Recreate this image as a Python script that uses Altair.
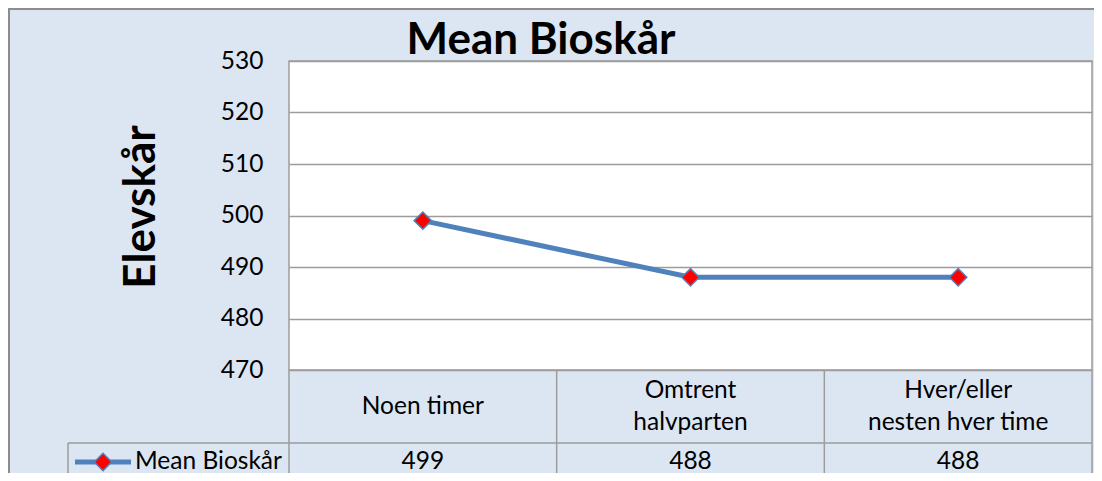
import altair as alt
import pandas as pd

# ---- data ----
categories = ["Noen timer", "Omtrent\nhalvparten", "Hver/eller\nnesten hver time"]
values = [499, 488, 488]
series_name = "Mean Bioskår"
chart_title = "Mean Bioskår"
y_title = "Elevskår"
y_ticks = [470, 480, 490, 500, 510, 520, 530]

# ---- style / layout ----
W, H = 803, 309
FONT = "Lato"
FS = 24.5
BLUE = "#4F81BD"
GRID = "#9C9C9C"
BG = "#DCE6F2"
PAD_L, PAD_T, PAD_R, PAD_B = 281, 53, 2, 103
TABLE_BOTTOM = H + PAD_B
ROW2_Y = 382          # horizontal line between category row and value row
VAL_Y = 401           # centre of the value row
LEG_X = -221          # left edge of the legend cell

df = pd.DataFrame({"cat": categories, "val": values, "series": [series_name] * len(values)})
one = pd.DataFrame({"series": [series_name]})

xenc = alt.X("cat:N", sort=categories, scale=alt.Scale(type="point", padding=0.5), axis=None)

base = alt.Chart(df)

line = base.mark_line(color=BLUE, strokeWidth=5).encode(
    x=xenc,
    y=alt.Y(
        "val:Q",
        scale=alt.Scale(domain=[470, 530], nice=False, zero=False),
        axis=alt.Axis(
            values=y_ticks, grid=True, gridColor=GRID, gridWidth=1.5,
            domain=False, ticks=False,
            labelFont=FONT, labelFontSize=FS, labelColor="black", labelPadding=26,
            title=y_title, titleFont=FONT, titleFontSize=44, titleFontWeight="bold",
            titleColor="black", titleX=-148, titleY=H / 2 - 9, titleAngle=270,
            titleAlign="center", titleBaseline="middle",
        ),
    ),
)

pts = base.mark_point(
    shape="diamond", filled=True, fill="red", stroke=BLUE, strokeWidth=1.5, size=300, opacity=1
).encode(x=xenc, y="val:Q")

# category row of the data table (one-line and two-line labels centred in the row)
cat_one = base.transform_filter("indexof(datum.cat, '\\n') < 0").mark_text(
    font=FONT, fontSize=FS, baseline="middle", align="center", color="black"
).encode(x=xenc, y=alt.value(H + 37), text="cat:N")
cat_two = base.transform_filter("indexof(datum.cat, '\\n') >= 0").mark_text(
    font=FONT, fontSize=FS, lineBreak="\n", lineHeight=32, baseline="middle", align="center", color="black"
).encode(x=xenc, y=alt.value(H + 21), text="cat:N")

val_text = base.mark_text(
    font=FONT, fontSize=FS, baseline="middle", align="center", color="black"
).encode(x=xenc, y=alt.value(VAL_Y), text="val:Q")

title_text = alt.Chart(one).mark_text(
    font=FONT, fontSize=44, fontWeight="bold", baseline="middle", align="center", color="black"
).encode(x=alt.value(252), y=alt.value(-20), text=alt.value(chart_title))

# legend cell in the data table
leg_line = alt.Chart(one).mark_rule(color=BLUE, strokeWidth=5).encode(
    x=alt.value(-214), x2=alt.value(-158), y=alt.value(VAL_Y))
leg_pt = alt.Chart(one).mark_point(
    shape="diamond", filled=True, fill="red", stroke=BLUE, strokeWidth=1.5, size=300, opacity=1
).encode(x=alt.value(-186), y=alt.value(VAL_Y))
leg_txt = alt.Chart(one).mark_text(
    align="left", baseline="middle", font=FONT, fontSize=FS, color="black"
).encode(x=alt.value(-154), y=alt.value(VAL_Y), text="series:N")

# table borders
rules = []
for xv in [0, W / 3, 2 * W / 3, W]:
    rules.append(alt.Chart(one).mark_rule(color=GRID, strokeWidth=1.5).encode(
        x=alt.value(xv), y=alt.value(H), y2=alt.value(TABLE_BOTTOM)))
rules.append(alt.Chart(one).mark_rule(color=GRID, strokeWidth=1.5).encode(
    x=alt.value(LEG_X), x2=alt.value(W), y=alt.value(ROW2_Y)))
rules.append(alt.Chart(one).mark_rule(color=GRID, strokeWidth=1.5).encode(
    x=alt.value(LEG_X), y=alt.value(ROW2_Y), y2=alt.value(TABLE_BOTTOM)))
# outer chart frame (top and left)
rules.append(alt.Chart(one).mark_rule(color="#8C8C8C", strokeWidth=2).encode(
    x=alt.value(-PAD_L), x2=alt.value(W + PAD_R), y=alt.value(-PAD_T + 1)))
rules.append(alt.Chart(one).mark_rule(color="#8C8C8C", strokeWidth=2).encode(
    x=alt.value(-PAD_L + 1), y=alt.value(-PAD_T), y2=alt.value(TABLE_BOTTOM)))

chart = alt.layer(
    line, pts, cat_one, cat_two, val_text, title_text, leg_line, leg_pt, leg_txt, *rules
).properties(
    width=W, height=H,
    autosize=alt.AutoSizeParams(type="none"),
    padding={"left": PAD_L, "top": PAD_T, "right": PAD_R, "bottom": PAD_B},
).configure(
    background=BG,
).configure_view(
    fill="white", stroke=GRID, strokeWidth=1.5,
)

chart.save("out.html", embed_options={"renderer": "svg", "actions": False})
